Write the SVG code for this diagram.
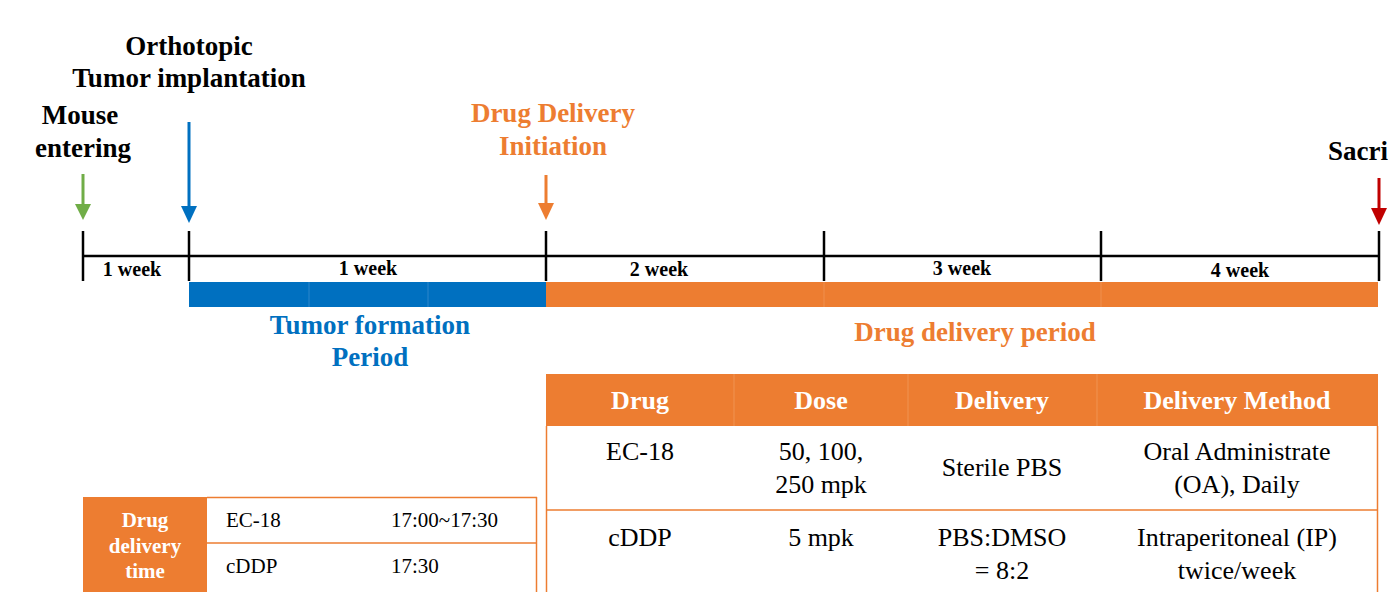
<svg xmlns="http://www.w3.org/2000/svg" width="1388" height="592" viewBox="0 0 1388 592">
<style>
text{font-family:"Liberation Serif","Times New Roman","DejaVu Serif",serif;}
.b{font-weight:bold;}
.blk{fill:#000;}
.org{fill:#ED7D31;}
.blu{fill:#0070C0;}
.wht{fill:#fff;}
.tick{stroke:#000;stroke-width:2.5;fill:none;}
.cell{stroke:#ED7D31;stroke-width:1.5;fill:none;}
</style>
<rect width="1388" height="592" fill="#fff"/>

<g id="timeline">
<line class="tick" x1="83" y1="256" x2="1379" y2="256"/>
<line class="tick" x1="83" y1="231" x2="83" y2="281"/>
<line class="tick" x1="189" y1="231" x2="189" y2="281"/>
<line class="tick" x1="546" y1="231" x2="546" y2="281"/>
<line class="tick" x1="824" y1="231" x2="824" y2="281"/>
<line class="tick" x1="1101" y1="231" x2="1101" y2="281"/>
<line class="tick" x1="1379" y1="231" x2="1379" y2="281"/>
<g class="b blk" font-size="20" text-anchor="middle">
<text x="132" y="276">1 week</text>
<text x="368" y="275">1 week</text>
<text x="659" y="276">2 week</text>
<text x="962" y="275">3 week</text>
<text x="1240" y="277">4 week</text>
</g>
<rect x="189" y="282" width="357" height="25" fill="#0070C0"/>
<line x1="309" y1="282" x2="309" y2="307" stroke="#3F8FD0" stroke-width="0.7"/>
<line x1="428" y1="282" x2="428" y2="307" stroke="#3F8FD0" stroke-width="0.7"/>
<rect x="546" y="282" width="832" height="25" fill="#ED7D31"/>
<line x1="824" y1="282" x2="824" y2="307" stroke="#F19A5C" stroke-width="0.7"/>
<line x1="1101" y1="282" x2="1101" y2="307" stroke="#F19A5C" stroke-width="0.7"/>
</g>

<g id="arrows">
<line x1="83" y1="174" x2="83" y2="206" stroke="#70AD47" stroke-width="3"/>
<path d="M75,204 L91,204 L83,220 Z" fill="#70AD47"/>
<line x1="189" y1="122" x2="189" y2="208" stroke="#0070C0" stroke-width="3"/>
<path d="M181,206 L197,206 L189,223 Z" fill="#0070C0"/>
<line x1="546" y1="175" x2="546" y2="205" stroke="#ED7D31" stroke-width="3"/>
<path d="M538,203 L554,203 L546,220 Z" fill="#ED7D31"/>
<line x1="1379" y1="178" x2="1379" y2="210" stroke="#C00000" stroke-width="3"/>
<path d="M1371,208 L1387,208 L1379,225 Z" fill="#C00000"/>
</g>

<g id="labels" class="b" font-size="27" text-anchor="middle">
<text class="blk" x="189" y="55">Orthotopic</text>
<text class="blk" x="189" y="87">Tumor implantation</text>
<text class="blk" x="80" y="124">Mouse</text>
<text class="blk" x="83" y="157">entering</text>
<text class="org" x="553" y="122">Drug Delivery</text>
<text class="org" x="553" y="155">Initiation</text>
<text class="blk" x="1328" y="160" text-anchor="start">Sacri</text>
<text class="blu" x="370" y="334">Tumor formation</text>
<text class="blu" x="370" y="366">Period</text>
<text class="org" x="975" y="341">Drug delivery period</text>
</g>

<g id="drug-table">
<rect x="546" y="374" width="832" height="52" fill="#ED7D31"/>
<line x1="734" y1="374" x2="734" y2="426" stroke="#F19A5C" stroke-width="0.8"/>
<line x1="908" y1="374" x2="908" y2="426" stroke="#F19A5C" stroke-width="0.8"/>
<line x1="1097" y1="374" x2="1097" y2="426" stroke="#F19A5C" stroke-width="0.8"/>
<line class="cell" x1="546.5" y1="426" x2="546.5" y2="592"/>
<line class="cell" x1="1377.5" y1="426" x2="1377.5" y2="592"/>
<line class="cell" x1="546" y1="510" x2="1378" y2="510"/>
<g class="b wht" font-size="26" text-anchor="middle">
<text x="640" y="409">Drug</text>
<text x="821" y="409">Dose</text>
<text x="1002" y="409">Delivery</text>
<text x="1237" y="409">Delivery Method</text>
</g>
<g class="blk" font-size="26" text-anchor="middle">
<text x="640" y="460">EC-18</text>
<text x="821" y="460">50, 100,</text>
<text x="821" y="493">250 mpk</text>
<text x="1002" y="476">Sterile PBS</text>
<text x="1237" y="460">Oral Administrate</text>
<text x="1237" y="493">(OA), Daily</text>
<text x="640" y="546">cDDP</text>
<text x="821" y="546">5 mpk</text>
<text x="1002" y="546">PBS:DMSO</text>
<text x="1002" y="579">= 8:2</text>
<text x="1237" y="546">Intraperitoneal (IP)</text>
<text x="1237" y="579">twice/week</text>
</g>
</g>

<g id="time-table">
<rect x="83" y="497" width="124" height="95" fill="#ED7D31"/>
<line class="cell" x1="207" y1="497.5" x2="537" y2="497.5"/>
<line class="cell" x1="536.5" y1="497" x2="536.5" y2="592"/>
<line class="cell" x1="207" y1="543" x2="537" y2="543"/>
<g class="b wht" font-size="21" text-anchor="middle">
<text x="145" y="527">Drug</text>
<text x="145" y="553">delivery</text>
<text x="145" y="578">time</text>
</g>
<g class="blk" font-size="21">
<text x="226" y="527">EC-18</text>
<text x="391" y="527">17:00~17:30</text>
<text x="226" y="573">cDDP</text>
<text x="391" y="573">17:30</text>
</g>
</g>
</svg>
